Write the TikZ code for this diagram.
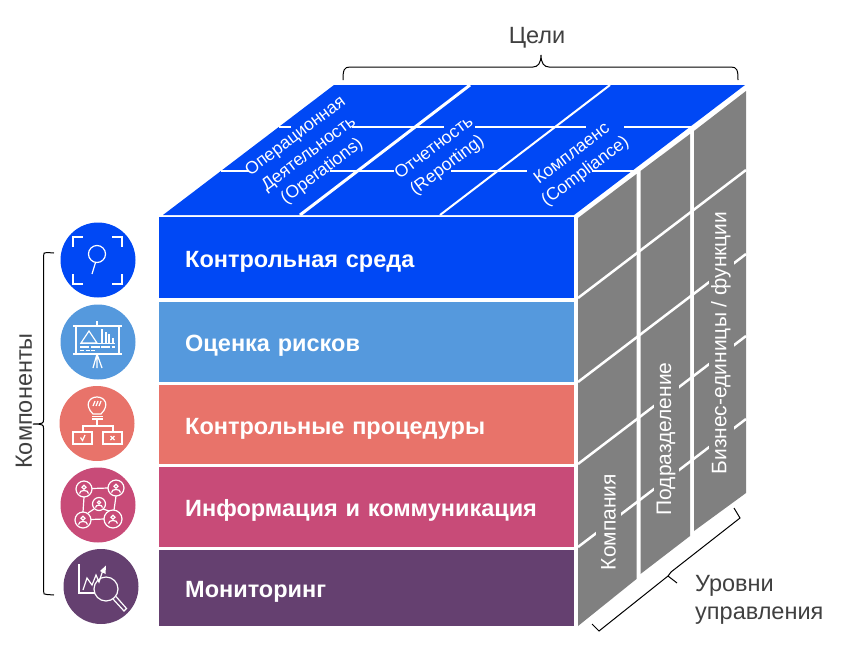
\documentclass[tikz,border=0pt]{standalone}
\usepackage{fontspec}
\setmainfont{Liberation Sans}
\definecolor{ctrlblue}{HTML}{0048F5}
\definecolor{riskblue}{HTML}{5599DD}
\definecolor{procred}{HTML}{E8736A}
\definecolor{infopink}{HTML}{C84B78}
\definecolor{monpurple}{HTML}{654070}
\definecolor{sidegray}{HTML}{808080}
\definecolor{captiongray}{HTML}{404040}
\tikzset{
    barbox/.style={anchor=north west, inner xsep=26pt, inner ysep=0pt, text width=363pt, align=left, text height=19pt, text depth=0pt, text=white, font=\fontsize{23.5}{26}\selectfont\bfseries},
    badge/.style={circle, minimum size=75pt, inner sep=0pt},
    topcaption/.style={rotate=37, align=center, text=white, font=\fontsize{17.5}{22}\selectfont, inner sep=0pt},
    sidecaption/.style={rotate=90, fill=sidegray, text=white, font=\fontsize{21}{24}\selectfont, inner xsep=0pt, inner ysep=0pt, minimum height=25pt},
    caption/.style={text=captiongray, font=\fontsize{23.5}{28}\selectfont, inner sep=0pt},
    icon/.style={draw=white, line width=1.2pt},
    gridline/.style={draw=white, line width=2pt},
    person/.pic={
        \draw[icon] (0,-2) circle (2.2);
        \draw[icon] (-5,5) .. controls (-5,0.5) and (5,0.5) .. (5,5);
    }
}
\begin{document}
\begin{tikzpicture}[x=1pt,y=-1pt]
    \useasboundingbox (0,0) rectangle (851,670);

    %draw the top face
    \fill[ctrlblue] (163,215) -- (574,215) -- (745,85) -- (334,85) -- cycle;
    \foreach \a/\b in {279/291,352/444,475/586,624/692} \draw[gridline] (\a,127) -- (\b,127);
    \foreach \a/\b in {221/249,330/394,451/527,592/634} \draw[gridline] (\a,171) -- (\b,171);
    \draw[white,line width=3pt] (300,215) -- (470,85);
    \draw[gridline] (440,215) -- (610,85);
    \node[topcaption] (operations) at (309,154) {Операционная\\Деятельность\\(Operations)};
    \node[topcaption] (reporting) at (441,157) {Отчетность\\(Reporting)};
    \node[topcaption] (compliance) at (579,163) {Комплаенс\\(Compliance)};

    %draw the side face
    \fill[sidegray] (578,218) -- (636.5,174) -- (636.5,579) -- (578,626) -- cycle;
    \fill[sidegray] (640.5,171) -- (690,134) -- (690,536) -- (640.5,574) -- cycle;
    \fill[sidegray] (694,131) -- (746,91) -- (746,493) -- (694,531) -- cycle;
    \foreach \y in {298,382,464,547} \draw[white,line width=2.5pt] (578,\y) -- (746,\y-128);
    \node[sidecaption] (company) at (608.5,522) {Компания};
    \node[sidecaption] (division) at (666,439) {Подразделение};
    \node[sidecaption] (units) at (721,343) {Бизнес-единицы / функции};

    %draw the component bars
    \node[barbox,fill=ctrlblue,minimum height=81pt] (environment) at (159,217) {Контрольная среда};
    \node[barbox,fill=riskblue,minimum height=80pt] (risks) at (159,302) {Оценка рисков};
    \node[barbox,fill=procred,minimum height=79pt] (procedures) at (159,385) {Контрольные процедуры};
    \node[barbox,fill=infopink,minimum height=80pt] (information) at (159,467) {Информация и коммуникация};
    \node[barbox,fill=monpurple,minimum height=76pt] (monitoring) at (159,550) {Мониторинг};

    %draw the round badges
    \node[badge,fill=ctrlblue] (badge1) at (98,260) {};
    \node[badge,fill=riskblue] (badge2) at (98,342) {};
    \node[badge,fill=procred] (badge3) at (97,423.5) {};
    \node[badge,fill=infopink] (badge4) at (98,505) {};
    \node[badge,fill=monpurple] (badge5) at (101,586.5) {};

    %magnifier in a frame
    \draw[icon] (73,247) -- (73,237) -- (83,237);
    \draw[icon] (112,237) -- (122,237) -- (122,247);
    \draw[icon] (73,274) -- (73,284) -- (83,284);
    \draw[icon] (112,284) -- (122,284) -- (122,274);
    \draw[icon] (97,254) circle (8.5);
    \draw[icon] (95.5,262.5) -- (92,274);

    %presentation board
    \draw[icon] (73,326) -- (122,326) (76,326) -- (76,354) (119,326) -- (119,354) (73,354) -- (122,354) (97,321) -- (97,326);
    \draw[icon] (89,331) -- (81,343) -- (97,343) -- cycle;
    \draw[icon] (80,343.5) -- (115,343.5);
    \foreach \x/\y in {102/329,105.5/332,109/334,112.5/338} \draw[white,line width=2pt] (\x,\y) -- (\x,343);
    \draw[icon,dash pattern=on 9pt off 1.5pt] (80,347) -- (115,347);
    \draw[icon,dash pattern=on 4pt off 1.5pt] (80,350.5) -- (95,350.5);
    \draw[icon] (97,354) -- (93,368) (97,354) -- (97,368) (97,354) -- (102,368);

    %bulb over two boxes
    \draw[icon] (93,414) .. controls (84,405) and (89,397) .. (97,397) .. controls (105,397) and (110,405) .. (101,414) -- cycle;
    \draw[icon] (92,416.5) -- (103,416.5) (92,419) -- (103,419) (97,419) -- (97,426);
    \draw[icon] (93,406) -- (95,401) (96,406) -- (98,401) (99,406) -- (101,401);
    \draw[icon] (83,432) -- (83,426) -- (113,426) -- (113,432);
    \draw[icon] (73,432) rectangle (92,444);
    \draw[icon] (103,432) rectangle (122,444);
    \draw[icon] (80.5,437.5) -- (82.5,440.5) -- (85,435);
    \draw[icon] (110.5,436) -- (114.5,440) (114.5,436) -- (110.5,440);

    %network of people
    \draw[icon] (84,489) circle (8);
    \draw[icon] (116,488) circle (8);
    \draw[icon] (99,504) circle (6.5);
    \draw[icon] (83,520) circle (8);
    \draw[icon] (113,519) circle (9);
    \draw[icon] (92,488.5) -- (108,488) (84,497) -- (83,512) (116,496) -- (114,510) (91,519.5) -- (104,519) (88,513) -- (94,509) (103,509) -- (109,511);
    \foreach \x/\y in {84/489,116/488,83/520,113/519} \pic[scale=0.9] at (\x,\y) {person};
    \pic[scale=0.7] at (99,504) {person};

    %chart under a magnifier
    \draw[icon] (79,564) -- (79,593) -- (95,593);
    \draw[icon] (83,590) -- (87,578) -- (92,585) -- (96,575) -- (99,582) -- (103,570);
    \fill[white] (100,571) -- (106,565.5) -- (105.5,574) -- cycle;
    \draw[icon] (106,589) circle (12);
    \draw[icon] (113,599) -- (124,611) -- (126.5,608.5) -- (116,596.5);

    %left brace
    \draw[line width=1pt] (54,253) -- (47,252.5) .. controls (44,252.5) and (43.5,253) .. (43.5,256) -- (43.5,420) .. controls (43.5,423) and (43,424) .. (33,424) .. controls (43,424) and (43.5,425) .. (43.5,428) -- (43.5,591) .. controls (43.5,594) and (44,594.5) .. (47,594.5) -- (54,595);
    \node[caption,rotate=90] (components) at (24,401) {Компоненты};

    %top brace
    \draw[line width=1pt] (343,80) .. controls (343,70) and (344,67) .. (350,67) -- (533,67) .. controls (538,67) and (541,63) .. (541,55) .. controls (541,63) and (544,67) .. (549,67) -- (731,67) .. controls (737,67) and (738,70) .. (738,80);
    \node[caption] (goals) at (537,38) {Цели};

    %bottom brace
    \draw[line width=1pt] (592,624) -- (599,631) -- (668,576) -- (677,583) (668,576) -- (671,572) -- (740,518) -- (734,508);
    \node[caption,align=left,anchor=west] (levels) at (695,600) {Уровни\\управления};
\end{tikzpicture}
\end{document}
